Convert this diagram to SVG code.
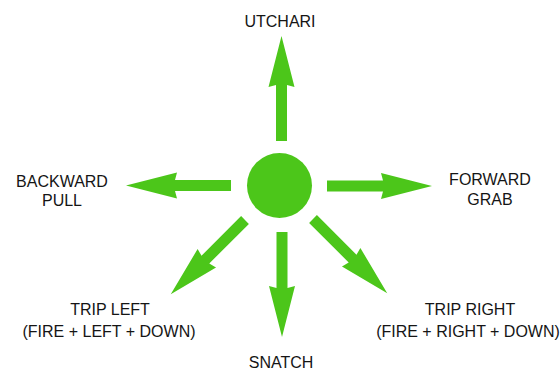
<svg xmlns="http://www.w3.org/2000/svg" xmlns:xlink="http://www.w3.org/1999/xlink" width="560" height="371" viewBox="0 0 560 371">
<style>
.lbl{font-family:"Liberation Sans",Arial,sans-serif;font-size:16px;fill:#151515;text-anchor:middle}
.g{fill:#4cc61a}
</style>
<defs>
<path id="arrow" class="g" d="M0,-5.5 H56 L54,-13 L105,0 L54,13 L56,5.5 H0 Z"/>
</defs>
<rect width="560" height="371" fill="#fff"/>
<g id="center"><circle class="g" cx="279.5" cy="185.5" r="32.5"/></g>
<g id="connectors">
<use xlink:href="#arrow" href="#arrow" transform="translate(281.5,141) rotate(-90)"/>
<use xlink:href="#arrow" href="#arrow" transform="translate(231,185.5) rotate(180)"/>
<use xlink:href="#arrow" href="#arrow" transform="translate(327,186)"/>
<use xlink:href="#arrow" href="#arrow" transform="translate(282,232) rotate(90)"/>
<use xlink:href="#arrow" href="#arrow" transform="translate(245,220) rotate(135)"/>
<use xlink:href="#arrow" href="#arrow" transform="translate(313,219) rotate(45)"/>
</g>
<g id="utchari"><text class="lbl" x="280" y="27">UTCHARI</text></g>
<g id="backward-pull"><text class="lbl" x="62" y="187">BACKWARD</text><text class="lbl" x="62" y="206">PULL</text></g>
<g id="forward-grab"><text class="lbl" x="490" y="185">FORWARD</text><text class="lbl" x="490" y="205">GRAB</text></g>
<g id="trip-left"><text class="lbl" x="110" y="315">TRIP LEFT</text><text class="lbl" x="109" y="337">(FIRE + LEFT + DOWN)</text></g>
<g id="trip-right"><text class="lbl" x="470" y="315">TRIP RIGHT</text><text class="lbl" x="468" y="337">(FIRE + RIGHT + DOWN)</text></g>
<g id="snatch"><text class="lbl" x="281" y="368">SNATCH</text></g>
</svg>
